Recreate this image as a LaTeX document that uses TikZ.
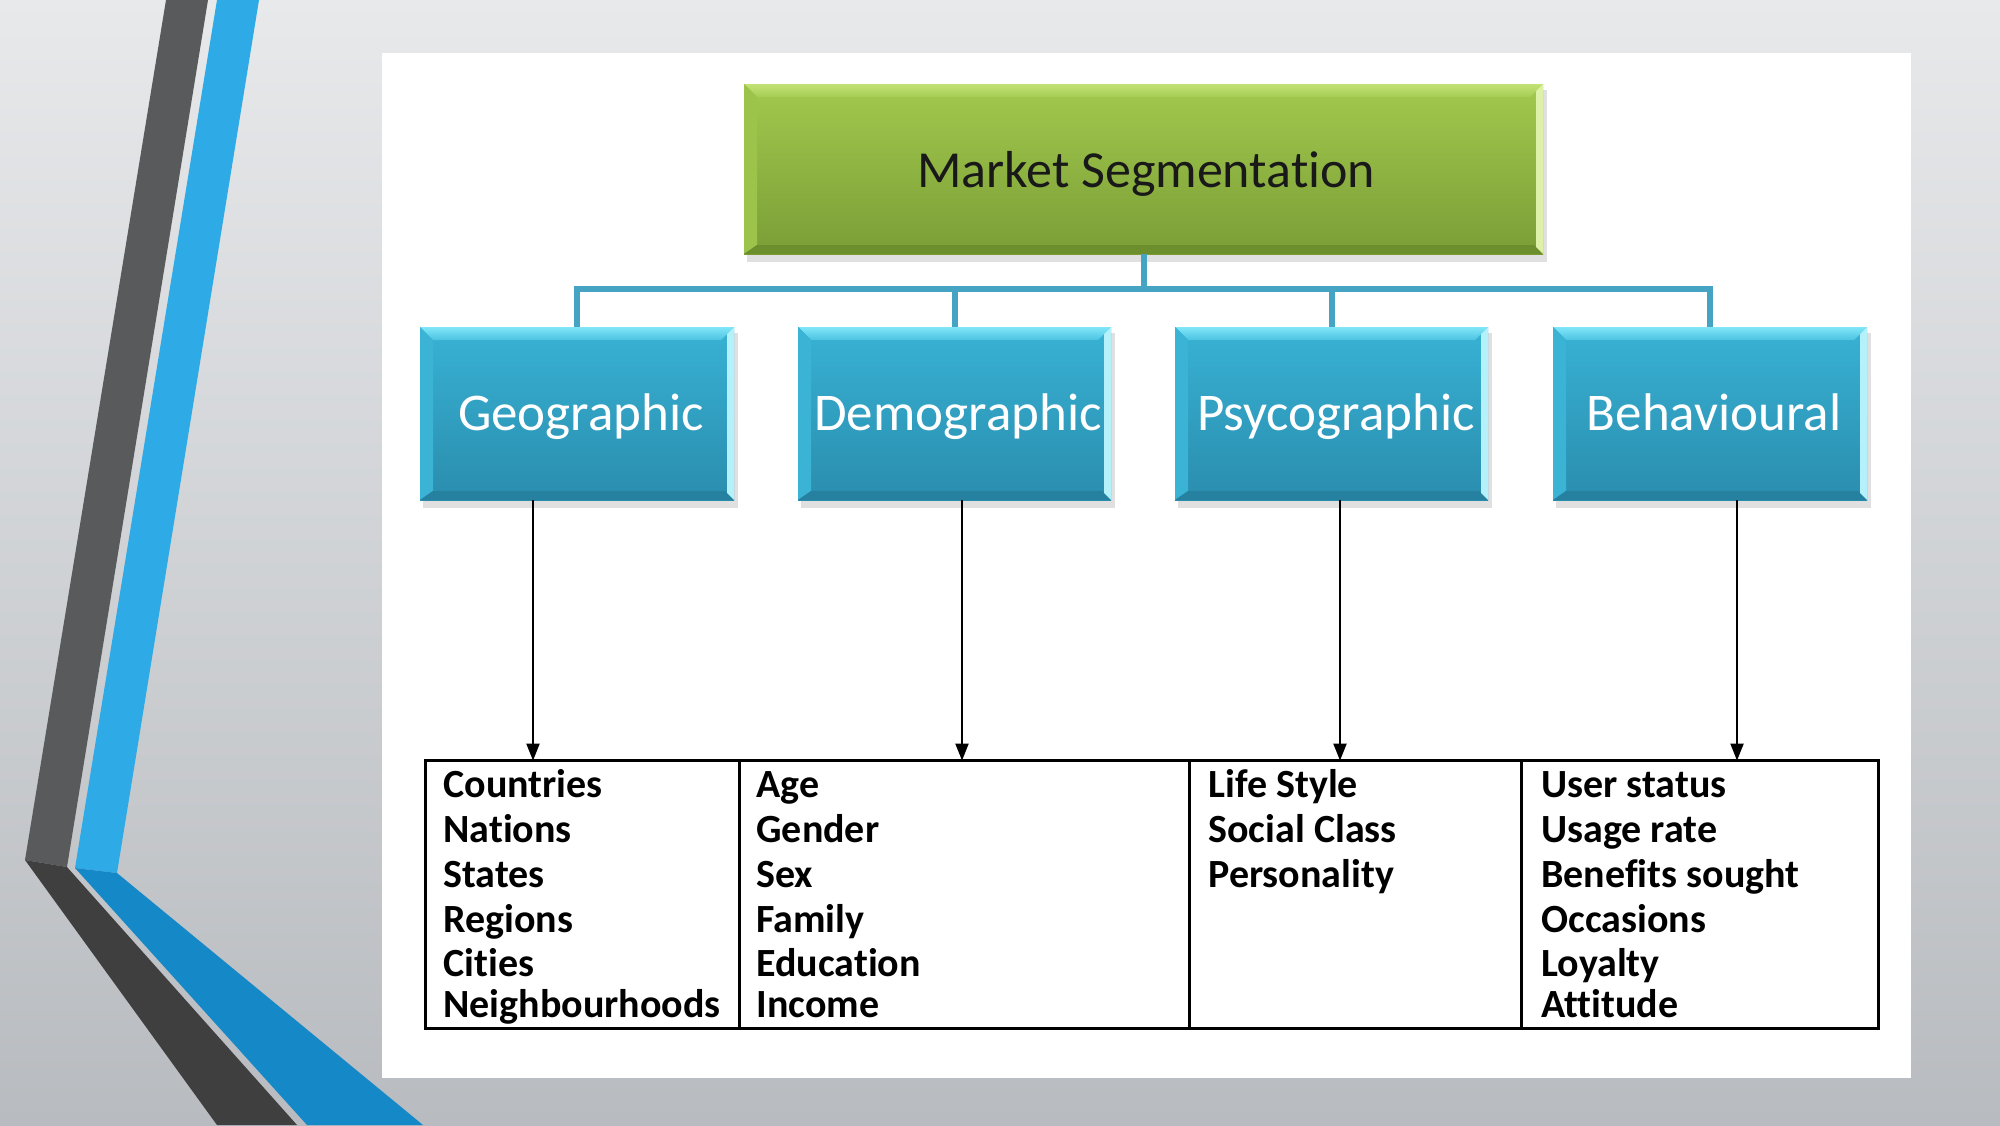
\documentclass[tikz,border=0pt]{standalone}
\usepackage{fontspec}
\setmainfont{Carlito}[Ligatures=NoCommon]
\usetikzlibrary{arrows.meta,fit}
\definecolor{bgT}{HTML}{E7E9EB}
\definecolor{bgM}{HTML}{D6D9DC}
\definecolor{bgB}{HTML}{B8BBBF}
\definecolor{darkU}{HTML}{595A5B}
\definecolor{darkD}{HTML}{3F3F40}
\definecolor{bluU}{HTML}{2EAAE6}
\definecolor{bluD}{HTML}{1588C7}
% blue box palette
\definecolor{bT}{HTML}{38B2D4}
\definecolor{bB}{HTML}{2A8DAE}
\definecolor{bH1}{HTML}{80E6F8}
\definecolor{bH2}{HTML}{4CC3E2}
\definecolor{bL}{HTML}{3AB3D4}
\definecolor{bR}{HTML}{B4F1FA}
\definecolor{bD}{HTML}{2680A0}
% green box palette
\definecolor{gT}{HTML}{A3C94E}
\definecolor{gB}{HTML}{7A9E36}
\definecolor{gH1}{HTML}{C2E375}
\definecolor{gH2}{HTML}{A6CC54}
\definecolor{gL}{HTML}{9CC44A}
\definecolor{gR}{HTML}{DDF2A8}
\definecolor{gD}{HTML}{6C8E2D}
\definecolor{conncol}{HTML}{45A3C4}
\newcommand\bevbox[6]{%
  \fill[black,opacity=.12] (#2+3,#3+6) rectangle (#4+4,#5+8);
  \shade[top color=#6T, bottom color=#6B] (#2,#3) rectangle (#4,#5);
  \shade[top color=#6H1, bottom color=#6H2] (#2,#3) -- (#4,#3) -- (#4-13,#3+13) -- (#2+13,#3+13) -- cycle;
  \fill[#6L] (#2,#3) -- (#2+13,#3+13) -- (#2+13,#5-9) -- (#2,#5) -- cycle;
  \fill[#6D] (#2,#5) -- (#4,#5) -- (#4-9,#5-9) -- (#2+13,#5-9) -- cycle;
  \fill[#6R] (#4,#3) -- (#4,#5) -- (#4-7,#5-7) -- (#4-7,#3+7) -- cycle;
  \node[fit={(#2,#3) (#4,#5)}, inner sep=0pt] (#1) {};
}
\begin{document}
\begin{tikzpicture}[x=0.5pt,y=-0.5pt,
  conn/.style={draw=conncol, line width=3pt, line join=miter},
  arr/.style={draw=black, line width=1pt, -{Triangle[length=8.5pt,width=6.5pt]}},
  tabline/.style={draw=black, line width=1.4pt},
  item/.style={anchor=base west, inner sep=0pt, font=\bfseries\fontsize{20}{22}\selectfont, text=black},
  bluetext/.style={anchor=base, inner sep=0pt, font=\fontsize{26.5}{28}\selectfont, text=white},
  greentext/.style={anchor=base, inner sep=0pt, font=\fontsize{26}{28}\selectfont, text=black!90}]
\useasboundingbox (0,0) rectangle (2000,1125);
% background
\shade[top color=bgT, middle color=bgM, bottom color=bgB] (0,0) rectangle (2000,1125);
% decorative stripes
\fill[darkU] (166,0) -- (208,0) -- (67,867) -- (25,860) -- cycle;
\fill[darkD] (25,860) -- (67,867) -- (297,1125) -- (217,1125) -- cycle;
\fill[bluU] (217,0) -- (259,0) -- (117,873) -- (75,868) -- cycle;
\fill[bluD] (75,868) -- (117,873) -- (423,1125) -- (307,1125) -- cycle;
% white panel
\fill[white] (382,53) rectangle (1911,1078);
% boxes
\bevbox{ms}{744}{84}{1543}{254}{g}
\bevbox{geo}{420}{327}{734}{500}{b}
\bevbox{dem}{798}{327}{1111}{500}{b}
\bevbox{psy}{1175}{327}{1488}{500}{b}
\bevbox{beh}{1553}{327}{1867}{500}{b}
\node[greentext] (mst) at (1146,187) {Market Segmentation};
\node[bluetext] (geot) at (581,430) {Geographic};
\node[bluetext] (demt) at (958,430) {Demographic};
\node[bluetext] (psyt) at (1336,430) {Psycographic};
\node[bluetext] (beht) at (1714,430) {Behavioural};
% tree connectors
\coordinate (hb) at (1143,289);
\draw[conn] (ms.south) -- (ms.south |- hb);
\draw[conn] (geo.north) -- (geo.north |- hb) -- (beh.north |- hb) -- (beh.north);
\draw[conn] (dem.north |- hb) -- (dem.north);
\draw[conn] (psy.north |- hb) -- (psy.north);
% table columns
\node[fit={(426,761) (739,1028)}, inner sep=0pt] (c1) {};
\node[fit={(739,761) (1189,1028)}, inner sep=0pt] (c2) {};
\node[fit={(1189,761) (1521,1028)}, inner sep=0pt] (c3) {};
\node[fit={(1521,761) (1878,1028)}, inner sep=0pt] (c4) {};
\draw[tabline] (c1.north west) rectangle (c4.south east);
\draw[tabline] (c1.north east) -- (c1.south east);
\draw[tabline] (c2.north east) -- (c2.south east);
\draw[tabline] (c3.north east) -- (c3.south east);
% arrows
\coordinate (a1) at (533,0);
\coordinate (a2) at (962,0);
\coordinate (a3) at (1340,0);
\coordinate (a4) at (1737,0);
\draw[arr] (geo.south -| a1) -- (c1.north -| a1);
\draw[arr] (dem.south -| a2) -- (c2.north -| a2);
\draw[arr] (psy.south -| a3) -- (c3.north -| a3);
\draw[arr] (beh.south -| a4) -- (c4.north -| a4);
% table text
\foreach \y/\t [count=\i] in {797/Countries,842/Nations,887/States,932/Regions,976/Cities,1017/Neighbourhoods}
  \node[item] (g\i) at (443,\y) {\t};
\foreach \y/\t [count=\i] in {797/Age,842/Gender,887/Sex,932/Family,976/Education,1017/Income}
  \node[item] (d\i) at (756,\y) {\t};
\foreach \y/\t [count=\i] in {797/Life Style,842/Social Class,887/Personality}
  \node[item] (p\i) at (1208,\y) {\t};
\foreach \y/\t [count=\i] in {797/User status,842/Usage rate,887/Benefits sought,932/Occasions,976/Loyalty,1017/Attitude}
  \node[item] (b\i) at (1541,\y) {\t};
\end{tikzpicture}
\end{document}
